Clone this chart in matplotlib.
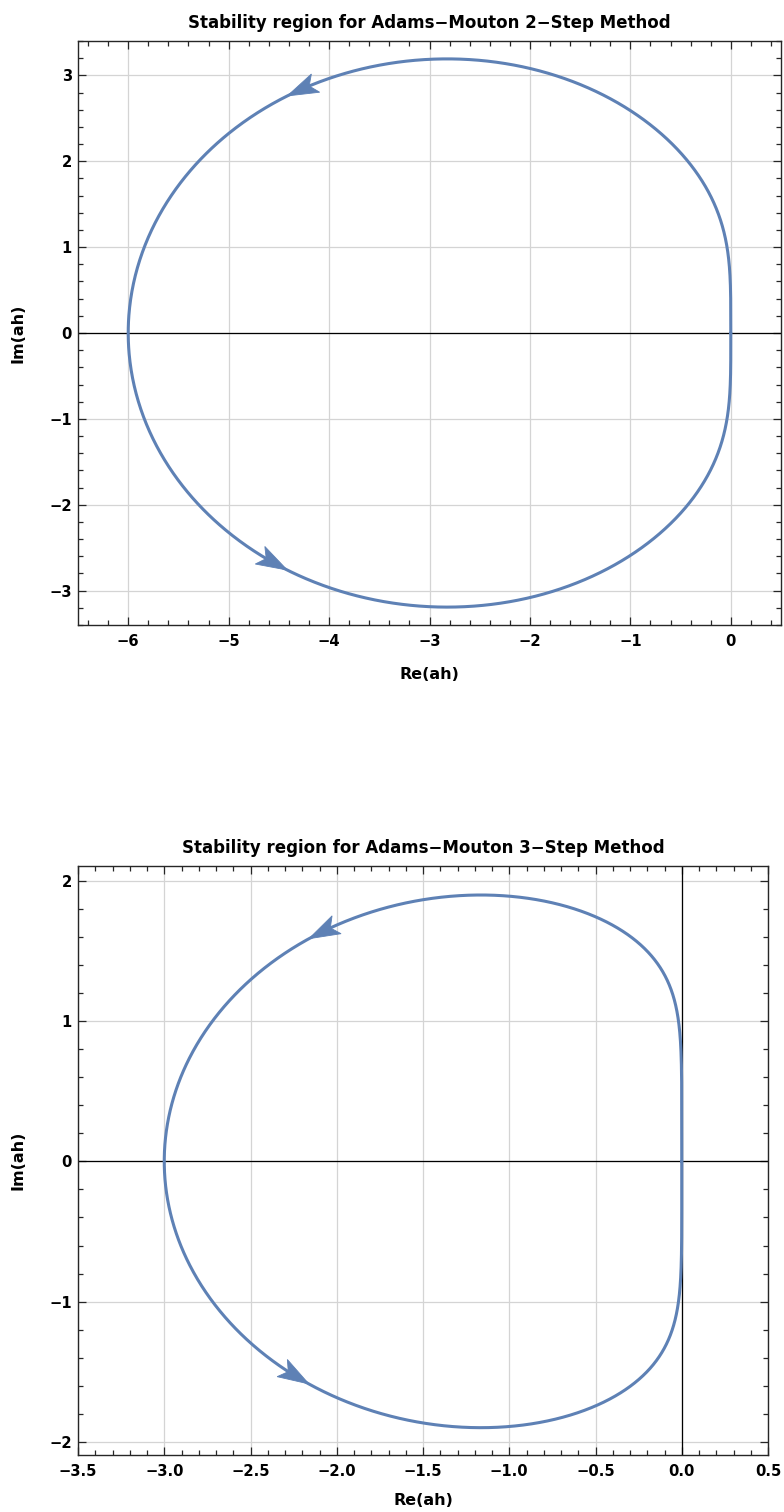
import numpy as np
import matplotlib
matplotlib.use("Agg")
import matplotlib.pyplot as plt
from matplotlib.patches import Polygon
from matplotlib.ticker import MultipleLocator

plt.rcParams['font.family'] = ['DejaVu Sans']
plt.rcParams['axes.unicode_minus'] = True

# Adams-Moulton characteristic polynomials (highest power first)
AM2_RHO = [1.0, -1.0, 0.0]
AM2_SIGMA = [5 / 12, 8 / 12, -1 / 12]
AM3_RHO = [1.0, -1.0, 0.0, 0.0]
AM3_SIGMA = [9 / 24, 19 / 24, -5 / 24, 1 / 24]

TITLES = ["Stability region for Adams\u2212Mouton 2\u2212Step Method",
          "Stability region for Adams\u2212Mouton 3\u2212Step Method"]
X_LABEL = "Re(ah)"
Y_LABEL = "Im(ah)"

# real part at which the direction arrows are placed on each locus
ARROW_TIP_RE = [-4.42, -2.16]

CURVE_COLOR = "#5E81B5"
FRAME_COLOR = "#262626"
GRID_COLOR = "#d4d4d4"

W, H = 784, 1512
fig = plt.figure(figsize=(W / 100, H / 100), dpi=100)


def px_axes(left, top, right, bottom):
    return fig.add_axes([left / W, 1 - bottom / H, (right - left) / W, (bottom - top) / H])


def boundary_locus(rho, sigma, n=4001):
    theta = np.linspace(0.0, 2.0 * np.pi, n)
    z = np.exp(1j * theta)
    return np.polyval(rho, z) / np.polyval(sigma, z)


def arrowhead(ax, h, idx, length=31.0, half_width=10.0, notch=24.0):
    """Filled, notched arrowhead whose tip sits on h[idx], pointing along increasing theta.

    The head axis follows the chord back along the curve so the curve runs
    through the middle of the head.
    """
    tr = ax.transData
    disp = tr.transform(np.column_stack([h.real, h.imag]))
    tip = disp[idx]
    j = idx
    while j > 0 and np.hypot(*(tip - disp[j])) < 0.75 * length:
        j -= 1
    d = tip - disp[j]
    d /= np.hypot(*d)
    nrm = np.array([-d[1], d[0]])
    pts = np.array([tip,
                    tip - length * d + half_width * nrm,
                    tip - notch * d,
                    tip - length * d - half_width * nrm])
    data_pts = tr.inverted().transform(pts)
    ax.add_patch(Polygon(data_pts, closed=True, facecolor=CURVE_COLOR,
                         edgecolor=CURVE_COLOR, lw=0.6, zorder=4))


def style_axes(ax, xlim, ylim, xmaj, xmin, ymaj, ymin):
    ax.set_xlim(*xlim)
    ax.set_ylim(*ylim)
    ax.xaxis.set_major_locator(MultipleLocator(xmaj))
    ax.xaxis.set_minor_locator(MultipleLocator(xmin))
    ax.yaxis.set_major_locator(MultipleLocator(ymaj))
    ax.yaxis.set_minor_locator(MultipleLocator(ymin))
    ax.tick_params(which='both', direction='in', top=True, right=True,
                   color=FRAME_COLOR, width=0.9)
    ax.tick_params(which='major', length=6)
    ax.tick_params(which='minor', length=3.6)
    ax.tick_params(axis='x', which='major', pad=6.5, labelsize=10.6)
    ax.tick_params(axis='y', which='major', pad=4.5, labelsize=10.6)
    for lab in ax.get_xticklabels() + ax.get_yticklabels():
        lab.set_fontweight('bold')
    for sp in ax.spines.values():
        sp.set_color(FRAME_COLOR)
        sp.set_linewidth(1.0)
    ax.set_axisbelow(True)
    ax.grid(which='major', color=GRID_COLOR, lw=0.9)


def draw_panel(ax, rho, sigma, title, tip_re, xlab_pos, ylab_pos, vertical_axis):
    h = boundary_locus(rho, sigma)
    ax.axhline(0, color='black', lw=0.9, zorder=1.5)
    if vertical_axis:
        ax.axvline(0, color='black', lw=0.9, zorder=1.5)
    ax.plot(h.real, h.imag, color=CURVE_COLOR, lw=2.2, zorder=3,
            solid_capstyle='round')
    ax.set_title(title, fontsize=12, fontweight='bold', pad=9.5)
    ax.set_xlabel(X_LABEL, fontsize=11.5, fontweight='bold')
    ax.set_ylabel(Y_LABEL, fontsize=11.5, fontweight='bold')
    ax.xaxis.set_label_coords(*xlab_pos)
    ax.yaxis.set_label_coords(*ylab_pos)
    ax.xaxis.label.set_verticalalignment('center')
    ax.yaxis.label.set_verticalalignment('center')

    n = len(h)
    upper = np.arange(10, n // 2)
    k = upper[np.argmin(np.abs(h.real[upper] - tip_re))]
    arrowhead(ax, h, k)
    arrowhead(ax, h, n - 1 - k)


ax1 = px_axes(78, 41, 781, 625)
style_axes(ax1, (-6.5, 0.5), (-3.4, 3.4), 1, 0.2, 1, 0.2)
draw_panel(ax1, AM2_RHO, AM2_SIGMA, TITLES[0], ARROW_TIP_RE[0],
           (0.5, -0.084), (-0.085, 0.5), vertical_axis=False)

ax2 = px_axes(78, 866, 768, 1455)
style_axes(ax2, (-3.5, 0.5), (-2.093, 2.105), 0.5, 0.1, 1, 0.2)
draw_panel(ax2, AM3_RHO, AM3_SIGMA, TITLES[1], ARROW_TIP_RE[1],
           (0.5, -0.078), (-0.087, 0.5), vertical_axis=True)

fig.savefig("out.png", dpi=100, facecolor='white')
